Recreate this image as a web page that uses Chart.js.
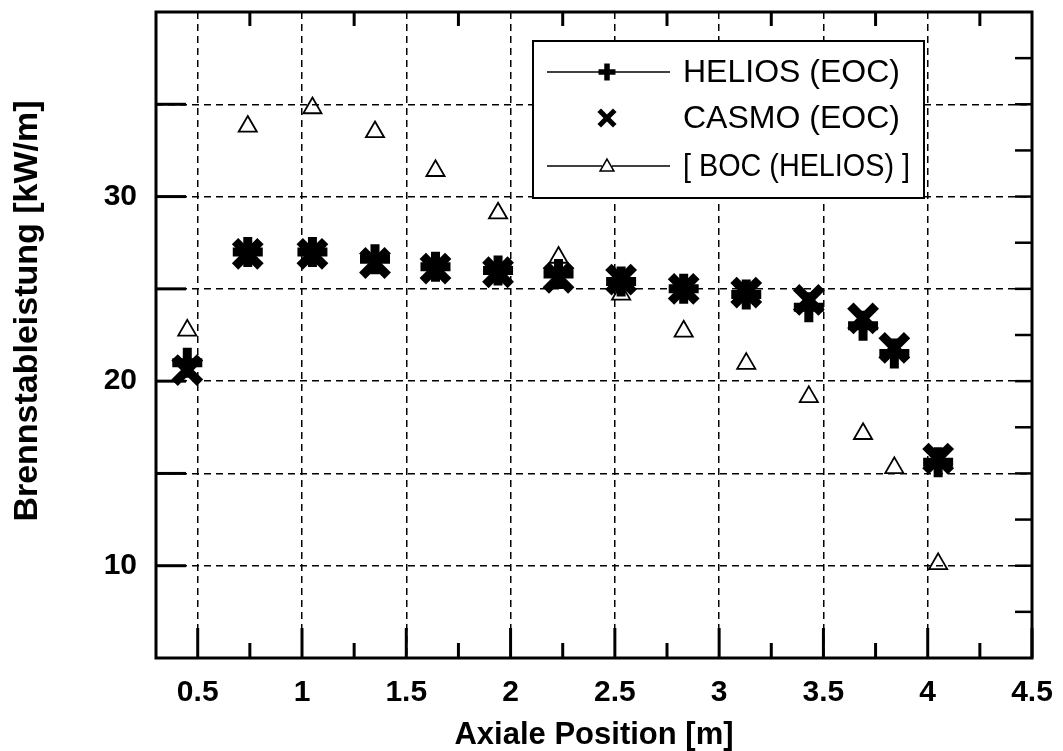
<!DOCTYPE html>
<html>
<head>
<meta charset="utf-8">
<script src="https://cdn.jsdelivr.net/npm/chart.js@4/dist/chart.umd.min.js"></script>
<style>
  html, body { margin: 0; padding: 0; background: #fff; }
</style>
</head>
<body>
<canvas id="chart" width="1063" height="751"></canvas>
<script>
// Axial positions of the measurement points [m]
const positions = [0.45, 0.74, 1.05, 1.35, 1.64, 1.94, 2.23, 2.53, 2.83, 3.13, 3.43, 3.69, 3.84, 4.05];
// Linear rod power [kW/m]
const heliosEOC = [21.0, 27.0, 27.0, 26.6, 26.2, 26.0, 25.8, 25.4, 25.0, 24.7, 24.0, 23.0, 21.5, 15.6];
const casmoEOC = [20.6, 26.9, 26.9, 26.4, 26.1, 25.9, 25.6, 25.5, 25.0, 24.8, 24.4, 23.4, 21.8, 15.8];
const bocHelios = [22.75, 33.8, 34.8, 33.5, 31.4, 29.1, 26.7, 24.7, 22.7, 20.95, 19.15, 17.15, 15.3, 10.1];

const seriesLabels = ["HELIOS (EOC)", "CASMO (EOC)", "[ BOC (HELIOS) ]"];
const xTickValues = [0.5, 1, 1.5, 2, 2.5, 3, 3.5, 4, 4.5];
const yGridValues = [10, 15, 20, 25, 30, 35];
const yLabelValues = [10, 20, 30];
const yTitle = "Brennstableistung [kW/m]";

const FONT = "'Liberation Sans', Arial, Helvetica, sans-serif";

function points(ys) {
  return positions.map((p, i) => ({ x: p, y: ys[i] }));
}

function line(ctx, x1, y1, x2, y2) {
  ctx.beginPath();
  ctx.moveTo(x1, y1);
  ctx.lineTo(x2, y2);
  ctx.stroke();
}

// small marker painter for the legend
function drawMarker(ctx, style, x, y, r, w) {
  ctx.lineWidth = w;
  if (style === "cross") {
    line(ctx, x - r, y, x + r, y);
    line(ctx, x, y - r, x, y + r);
  } else if (style === "crossRot") {
    const d = r * Math.SQRT1_2;
    line(ctx, x - d, y - d, x + d, y + d);
    line(ctx, x - d, y + d, x + d, y - d);
  } else {
    ctx.beginPath();
    for (let k = 0; k < 3; k++) {
      const a = k * 2 * Math.PI / 3;
      ctx.lineTo(x + Math.sin(a) * r, y - Math.cos(a) * r);
    }
    ctx.closePath();
    ctx.stroke();
  }
}

// frame + inward tick marks, drawn below the markers
const frameTicks = {
  id: "frameTicks",
  beforeDatasetsDraw(chart) {
    const ctx = chart.ctx;
    const a = chart.chartArea;
    const xs = chart.scales.x;
    const ys = chart.scales.y;
    ctx.save();
    ctx.strokeStyle = "#000";
    ctx.lineCap = "butt";
    ctx.lineWidth = 3;
    for (let i = 1; i <= 18; i++) {
      const v = i * 0.25;
      if (v < xs.min || v > xs.max) continue;
      const px = xs.getPixelForValue(v);
      const major = i % 2 === 0;
      line(ctx, px, a.bottom, px, a.bottom - (major ? 30 : 15));
      if (!major) line(ctx, px, a.top, px, a.top + 14);
    }
    yGridValues.forEach((v) => {
      const py = ys.getPixelForValue(v);
      line(ctx, a.left, py, a.left + 30, py);
    });
    ctx.lineWidth = 2.5;
    for (let i = 3; i <= 15; i++) {
      const py = ys.getPixelForValue(i * 2.5);
      line(ctx, a.right, py, a.right - 17, py);
    }
    ctx.lineWidth = 3;
    ctx.strokeRect(a.left, a.top, a.right - a.left, a.bottom - a.top);
    ctx.restore();
  },
};

// boxed legend inside the plot (top right) and the y axis title
const boxLegend = {
  id: "boxLegend",
  afterDraw(chart) {
    const ctx = chart.ctx;
    const a = chart.chartArea;
    const left = a.right - 499;
    const right = a.right - 108;
    const top = a.top + 29;
    const bottom = a.top + 186;
    ctx.save();
    ctx.fillStyle = "#fff";
    ctx.fillRect(left, top, right - left, bottom - top);
    ctx.strokeStyle = "#000";
    ctx.lineWidth = 2;
    ctx.strokeRect(left, top, right - left, bottom - top);

    const rows = [
      { style: "cross", r: 8.5, w: 5.5, withLine: true },
      { style: "crossRot", r: 11, w: 5, withLine: false },
      { style: "triangle", r: 8, w: 1.5, withLine: true },
    ];
    const rowY = [a.top + 60, a.top + 106, a.top + 154];
    const textX = left + 150;
    rows.forEach((row, i) => {
      const y = rowY[i];
      if (row.withLine) {
        ctx.lineWidth = 1.5;
        line(ctx, left + 14, y, left + 137, y);
      }
      if (row.style === "triangle") {
        ctx.fillStyle = "#fff";
        ctx.beginPath();
        ctx.arc(left + 74, y, 5, 0, 2 * Math.PI);
        ctx.fill();
      }
      drawMarker(ctx, row.style, left + 74, y + (row.style === "triangle" ? 1 : 0), row.r, row.w);
      ctx.fillStyle = "#000";
      ctx.font = "32px " + FONT;
      ctx.textAlign = "left";
      ctx.textBaseline = "middle";
      ctx.fillText(seriesLabels[i], textX, y + 1, right - 14 - textX);
    });

    // y title sits a little above the plot centre in the original
    ctx.translate(a.left - 128, (a.top + a.bottom) / 2 - 24);
    ctx.rotate(-Math.PI / 2);
    ctx.font = "bold 34px " + FONT;
    ctx.textAlign = "center";
    ctx.textBaseline = "middle";
    ctx.fillStyle = "#000";
    ctx.fillText(yTitle, 0, 0);
    ctx.restore();
  },
};

new Chart(document.getElementById("chart"), {
  type: "scatter",
  data: {
    datasets: [
      {
        label: seriesLabels[0],
        data: points(heliosEOC),
        pointStyle: "cross",
        pointRadius: 15,
        pointBorderWidth: 9,
        borderColor: "#000",
        backgroundColor: "#000",
      },
      {
        label: seriesLabels[1],
        data: points(casmoEOC),
        pointStyle: "crossRot",
        pointRadius: 18,
        pointBorderWidth: 9,
        borderColor: "#000",
        backgroundColor: "#000",
      },
      {
        label: seriesLabels[2],
        data: points(bocHelios),
        pointStyle: "triangle",
        pointRadius: 10.5,
        pointBorderWidth: 1.8,
        borderColor: "#000",
        backgroundColor: "rgba(0,0,0,0)",
      },
    ],
  },
  options: {
    responsive: false,
    animation: false,
    devicePixelRatio: 1,
    layout: { autoPadding: false, padding: { left: 0, top: 12, right: 31, bottom: 0 } },
    plugins: {
      legend: { display: false },
      tooltip: { enabled: false },
    },
    scales: {
      x: {
        type: "linear",
        min: 0.3,
        max: 4.5,
        afterBuildTicks: (s) => { s.ticks = xTickValues.map((v) => ({ value: v })); },
        afterFit: (s) => {
          s.height = 93;
          s.paddingLeft = 0;
          s.paddingRight = 0;
        },
        ticks: {
          color: "#000",
          padding: 17,
          maxRotation: 0,
          autoSkip: false,
          font: { family: FONT, size: 30, weight: "bold" },
          callback: (v) => String(v),
        },
        grid: { color: "#000", lineWidth: 1.5, drawTicks: false },
        border: { display: false, dash: [7, 5] },
        title: {
          display: true,
          text: "Axiale Position [m]",
          color: "#000",
          padding: { top: 0, bottom: 0 },
          font: { family: FONT, size: 31, weight: "bold", lineHeight: 1 },
        },
      },
      y: {
        type: "linear",
        min: 5,
        max: 40,
        afterBuildTicks: (s) => { s.ticks = yGridValues.map((v) => ({ value: v })); },
        afterFit: (s) => {
          s.width = 156;
          s.paddingTop = 0;
          s.paddingBottom = 0;
        },
        ticks: {
          color: "#000",
          padding: 19,
          font: { family: FONT, size: 30, weight: "bold" },
          callback: (v) => (yLabelValues.includes(v) ? String(v) : ""),
        },
        grid: { color: "#000", lineWidth: 1.5, drawTicks: false },
        border: { display: false, dash: [7, 5] },
        title: { display: false },
      },
    },
  },
  plugins: [frameTicks, boxLegend],
});
</script>
</body>
</html>
